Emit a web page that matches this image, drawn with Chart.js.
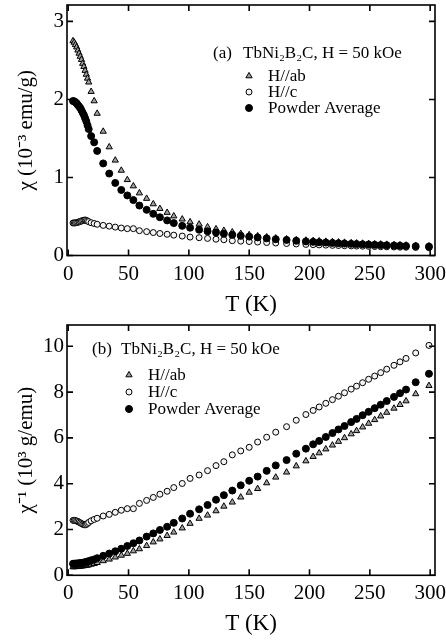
<!DOCTYPE html>
<html><head><meta charset="utf-8">
<script src="https://cdn.jsdelivr.net/npm/chart.js@4.4.1/dist/chart.umd.min.js"></script>
<style>
html,body{margin:0;padding:0;background:#fff;}
canvas{display:block;}
</style></head><body>
<canvas id="c1" width="446" height="320"></canvas>
<canvas id="c2" width="446" height="323"></canvas>
<script>
// ---- data ----
const temperatureK = [4,5,6,7,8,9,10,11,12,13,14,15,16,17,
  19,21.5,24,29,34,39,44,49,54,59,
  65,70.5,76,82,87.5,94.5,101,108.5,115.5,122.5,
  129,136,143,150,157,164.5,172,181,189,197,
  203,208,213.5,219,224,229,234.5,239,244,249,
  254,259,264,270,275,280,288,299];

// panel (a): chi in 1e-3 emu/g
const chiHab = [2.75,2.73,2.70,2.67,2.63,2.59,2.55,2.51,2.46,2.42,2.37,2.32,2.27,2.22,
  2.10,1.98,1.82,1.59,1.39,1.22,1.09,0.97,0.89,0.80,
  0.73,0.66,0.60,0.55,0.505,0.465,0.43,0.40,0.365,0.34,
  0.32,0.30,0.28,0.265,0.25,0.236,0.222,0.21,0.20,0.194,
  0.189,0.185,0.180,0.175,0.171,0.167,0.162,0.158,0.155,0.151,
  0.147,0.144,0.141,0.137,0.134,0.131,0.126,0.121];
const chiHc = [0.417,0.417,0.418,0.422,0.426,0.431,0.437,0.442,0.448,0.452,0.455,0.450,0.442,0.433,
  0.42,0.41,0.40,0.386,0.376,0.364,0.352,0.344,0.344,0.318,
  0.306,0.294,0.282,0.272,0.261,0.249,0.236,0.228,0.219,0.209,
  0.202,0.19,0.184,0.179,0.172,0.166,0.16,0.154,0.148,0.142,
  0.139,0.136,0.133,0.130,0.128,0.125,0.123,0.121,0.119,0.117,
  0.115,0.113,0.111,0.109,0.107,0.106,0.103,0.0996];
const chiPowder = [1.98,1.975,1.965,1.95,1.93,1.91,1.89,1.86,1.83,1.80,1.76,1.72,1.67,1.62,
  1.53,1.45,1.34,1.18,1.05,0.93,0.84,0.77,0.71,0.64,
  0.585,0.534,0.49,0.45,0.415,0.38,0.356,0.33,0.31,0.295,
  0.28,0.265,0.252,0.242,0.232,0.22,0.209,0.199,0.189,0.181,
  0.175,0.170,0.166,0.161,0.157,0.153,0.149,0.146,0.143,0.140,
  0.137,0.134,0.131,0.128,0.126,0.123,0.119,0.114];

// panel (b): inverse chi in 1e3 g/emu
const invHab = [0.364,0.366,0.370,0.375,0.380,0.386,0.392,0.398,0.407,0.413,0.422,0.431,0.441,0.450,
  0.476,0.505,0.55,0.63,0.70,0.79,0.87,0.95,1.06,1.15,
  1.29,1.45,1.58,1.73,1.88,2.06,2.26,2.48,2.62,2.81,
  3.01,3.19,3.41,3.62,3.78,4.03,4.28,4.50,4.77,4.99,
  5.18,5.34,5.51,5.68,5.84,6.00,6.17,6.31,6.47,6.63,
  6.79,6.95,7.11,7.29,7.45,7.61,7.92,8.28];
const invHc = [2.40,2.40,2.39,2.37,2.35,2.32,2.29,2.26,2.23,2.21,2.20,2.22,2.26,2.31,
  2.38,2.44,2.49,2.59,2.66,2.75,2.84,2.91,2.91,3.14,
  3.27,3.40,3.54,3.67,3.83,4.01,4.23,4.38,4.57,4.79,
  4.96,5.26,5.43,5.59,5.82,6.03,6.25,6.49,6.77,7.02,
  7.20,7.35,7.51,7.67,7.82,7.97,8.13,8.26,8.41,8.56,
  8.70,8.85,9.00,9.17,9.32,9.47,9.71,10.04];
const invPowder = [0.505,0.506,0.509,0.513,0.518,0.524,0.529,0.538,0.546,0.556,0.568,0.581,0.599,0.617,
  0.654,0.69,0.746,0.85,0.95,1.05,1.16,1.28,1.40,1.52,
  1.69,1.83,1.98,2.12,2.29,2.48,2.69,2.88,3.07,3.30,
  3.50,3.70,3.93,4.13,4.31,4.56,4.80,5.03,5.31,5.53,
  5.72,5.87,6.04,6.21,6.37,6.52,6.69,6.83,6.99,7.14,
  7.30,7.45,7.61,7.79,7.95,8.11,8.43,8.80];

const xTicks = [0,50,100,150,200,250,300];
const yTicksA = [0,1,2,3];
const yTicksB = [0,2,4,6,8,10];
const seriesLabels = ['H//ab','H//c','Powder Average'];
const headerA = ['(a)','TbNi\u2082B\u2082C, H = 50 kOe'];
const headerB = ['(b)','TbNi\u2082B\u2082C, H = 50 kOe'];
const xTitle = 'T (K)';
const yTitleA = '\u03C7 (10\u207B\u00B3 emu/g)';
const yTitleB = '\u03C7\u207B\u00B9 (10\u00B3 g/emu)';

// ---- styling ----
const FONT = "'Liberation Serif','Times New Roman',serif";
const styles = [
  {pointStyle:'triangle', radius:3.6, bg:'#a0a0a0', border:'#000', bw:1},
  {pointStyle:'circle', radius:3, bg:'#f4f4f4', border:'#000', bw:1},
  {pointStyle:'circle', radius:3.5, bg:'#000', border:'#000', bw:1}
];

function toXY(ys){ return temperatureK.map((t,i)=>({x:t,y:ys[i]})); }

const framePlugin = {
  id:'frame',
  afterDraw(chart){
    const o = chart.options.plugins.frame;
    const {ctx, chartArea:a, scales:{x,y}} = chart;
    ctx.save();
    ctx.strokeStyle='#000'; ctx.lineWidth=1.6;
    ctx.strokeRect(a.left, a.top, a.right-a.left, a.bottom-a.top);
    const L=6;
    ctx.beginPath();
    x.ticks.forEach(t=>{const px=x.getPixelForValue(t.value);
      ctx.moveTo(px,a.bottom); ctx.lineTo(px,a.bottom-L);
      ctx.moveTo(px,a.top); ctx.lineTo(px,a.top+L);});
    y.ticks.forEach(t=>{const py=y.getPixelForValue(t.value);
      ctx.moveTo(a.left,py); ctx.lineTo(a.left+L,py);
      ctx.moveTo(a.right,py); ctx.lineTo(a.right-L,py);});
    ctx.stroke();
    // legend
    ctx.fillStyle='#000';
    ctx.textBaseline='middle'; ctx.textAlign='left';
    ctx.font = '17px '+FONT;
    ctx.fillText(o.header[0], o.hx1, o.hy);
    ctx.fillText(o.header[1], o.hx2, o.hy);
    chart.data.datasets.slice().sort((p,q)=>p.legendIndex-q.legendIndex).forEach((ds,i)=>{
      const yy = o.rows[i];
      ctx.fillStyle = ds.backgroundColor; ctx.strokeStyle = ds.borderColor; ctx.lineWidth = ds.borderWidth;
      Chart.helpers.drawPoint(ctx, {pointStyle:ds.pointStyle, radius:ds.pointRadius, rotation:0, borderWidth:ds.borderWidth}, o.mx, yy);
      ctx.fillStyle='#000';
      ctx.fillText(ds.label, o.tx, yy+1);
    });
    ctx.restore();
  }
};

function makeChart(id, series, yTicks, yMax, yTitle, pad, xAxisH, frameOpts, titlePadBottom){
  const datasets = [2,1,0].map((k,j)=>({
    label: seriesLabels[k], legendIndex:k, order:j,
    data: toXY(series[k]),
    pointStyle: styles[k].pointStyle, pointRadius: styles[k].radius,
    backgroundColor: styles[k].bg, borderColor: styles[k].border, borderWidth: styles[k].bw,
    showLine:false
  }));
  return new Chart(document.getElementById(id), {
    type:'scatter',
    data:{datasets},
    options:{
      responsive:false, animation:false, devicePixelRatio:1,
      layout:{padding:pad},
      plugins:{legend:{display:false}, tooltip:{enabled:false}, frame:frameOpts},
      scales:{
        x:{type:'linear', min:-1, max:304,
          afterBuildTicks:s=>{s.ticks = xTicks.map(v=>({value:v}));},
          afterFit:s=>{s.height = xAxisH; s.paddingLeft=0; s.paddingRight=0;},
          grid:{display:false, drawTicks:false}, border:{display:false},
          ticks:{color:'#000', padding:6, font:{family:FONT,size:21}, maxRotation:0},
          title:{display:true, text:xTitle, color:'#000', font:{family:FONT,size:23}, padding:{top:0,bottom:titlePadBottom}}
        },
        y:{type:'linear', min:0, max:yMax,
          afterBuildTicks:s=>{s.ticks = yTicks.map(v=>({value:v}));},
          afterFit:s=>{s.width = 67; s.paddingTop=0; s.paddingBottom=0;},
          grid:{display:false, drawTicks:false}, border:{display:false},
          ticks:{color:'#000', padding:3, font:{family:FONT,size:21}},
          title:{display:true, text:yTitle, color:'#000', font:{family:FONT,size:21}, padding:{top:14,bottom:0}}
        }
      }
    },
    plugins:[framePlugin]
  });
}

makeChart('c1', [chiHab, chiHc, chiPowder], yTicksA, 3.21, yTitleA,
  {top:3,right:11,left:0,bottom:0}, 64.5,
  {header:headerA, hx1:213, hx2:243, hy:54, mx:249, tx:268, rows:[76,92,108]}, 1);
makeChart('c2', [invHab, invHc, invPowder], yTicksB, 10.93, yTitleB,
  {top:1,right:11,left:0,bottom:0}, 67.7,
  {header:headerB, hx1:92, hx2:121, hy:29.5, mx:129, tx:148, rows:[55,72,89]}, 5);
</script>
</body></html>
